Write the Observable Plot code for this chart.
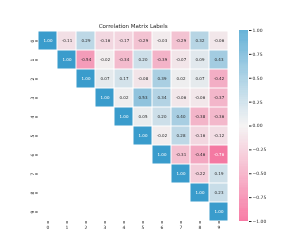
<!DOCTYPE html>
<html>
<head>
<meta charset="utf-8">
<script src="https://cdn.jsdelivr.net/npm/d3@7"></script>
<script src="https://cdn.jsdelivr.net/npm/@observablehq/plot@0.6"></script>
<style>
body { margin: 0; background: #fff; }
#wrap { position: relative; width: 305px; height: 249px; }
#wrap svg { position: absolute; left: 0; top: 0; will-change: transform; }
#wrap svg text { -webkit-font-smoothing: antialiased; }
</style>
</head>
<body>
<div id="wrap"></div>
<script>
const title = "Correlation Matrix Labels";
const labels = [0, 1, 2, 3, 4, 5, 6, 7, 8, 9];
// upper triangle rows (row i starts at column i)
const row0 = [1.00, -0.11, 0.29, -0.16, -0.17, -0.29, -0.03, -0.29, 0.32, -0.06];
const row1 = [1.00, -0.54, -0.02, -0.34, 0.20, -0.39, -0.07, 0.09, 0.43];
const row2 = [1.00, 0.07, 0.17, -0.08, 0.39, 0.02, 0.07, -0.42];
const row3 = [1.00, 0.02, 0.53, 0.34, -0.06, -0.06, -0.37];
const row4 = [1.00, 0.05, 0.20, 0.40, -0.38, -0.36];
const row5 = [1.00, -0.02, 0.28, -0.16, -0.12];
const row6 = [1.00, -0.31, -0.46, -0.76];
const row7 = [1.00, -0.22, 0.19];
const row8 = [1.00, 0.23];
const row9 = [1.00];
const colorbarTicks = [-1, -0.75, -0.5, -0.25, 0, 0.25, 0.5, 0.75, 1];

const rows = [row0, row1, row2, row3, row4, row5, row6, row7, row8, row9];
const cells = [];
rows.forEach((r, i) => r.forEach((v, k) => cells.push({row: i, col: i + k, v})));

const interp = d3.piecewise(d3.interpolateRgb, ["#f5548a", "#f2f0f0", "#3a9ccc"]);
const colorOf = v => interp((v + 1) / 2);
function lum(c) {
  const rgb = d3.rgb(c);
  const f = x => { x /= 255; return x <= 0.03928 ? x / 12.92 : Math.pow((x + 0.055) / 1.055, 2.4); };
  return 0.2126 * f(rgb.r) + 0.7152 * f(rgb.g) + 0.0722 * f(rgb.b);
}
const font = "DejaVu Sans, sans-serif";
const ink = "#262626";
cells.forEach(d => { d.fillColor = colorOf(d.v); d.textColor = lum(d.fillColor) < 0.408 ? "white" : ink; });

const heat = Plot.plot({
  width: 305, height: 249,
  marginLeft: 37.7, marginRight: 77.3, marginTop: 30.7, marginBottom: 28,
  style: {fontFamily: font, fontSize: "4.5px", color: ink, background: "#ffffff"},
  x: {type: "band", domain: labels, padding: 0, axis: null},
  y: {type: "band", domain: labels, padding: 0, axis: null},
  color: {type: "identity"},
  marks: [
    Plot.cell(cells, {x: "col", y: "row", fill: "fillColor", inset: 0.5}),
    Plot.text(cells, {x: "col", y: "row", text: d => d.v.toFixed(2), fontSize: 4, fill: "textColor"}),
    Plot.axisX({anchor: "bottom", tickSize: 2.5, tickPadding: 1.5, fontSize: 4.5, label: null, fill: ink, stroke: ink}),
    Plot.axisY({anchor: "left", tickSize: 2.5, tickPadding: 1.5, fontSize: 4.5, label: null, tickRotate: -90, fill: ink, stroke: ink}),
    Plot.text([title], {frameAnchor: "top", dy: -7, fontSize: 5.5, fill: ink})
  ]
});

const steps = d3.range(-1, 1, 0.005);
const bar = Plot.plot({
  width: 305, height: 249,
  marginLeft: 239, marginRight: 57, marginTop: 30, marginBottom: 28,
  style: {fontFamily: font, fontSize: "4.5px", color: ink, background: "transparent"},
  y: {domain: [-1, 1], axis: null},
  color: {type: "identity"},
  marks: [
    Plot.rect(steps, {y1: d => d, y2: d => Math.min(1, d + 0.0055), fill: d => colorOf(d + 0.0025)}),
    Plot.axisY({anchor: "right", ticks: colorbarTicks, tickFormat: d3.format(".2f"), tickSize: 2.5, tickPadding: 1.5, fontSize: 4.5, label: null, fill: ink, stroke: ink})
  ]
});

const wrap = document.getElementById("wrap");
wrap.appendChild(heat);
wrap.appendChild(bar);
</script>
</body>
</html>
